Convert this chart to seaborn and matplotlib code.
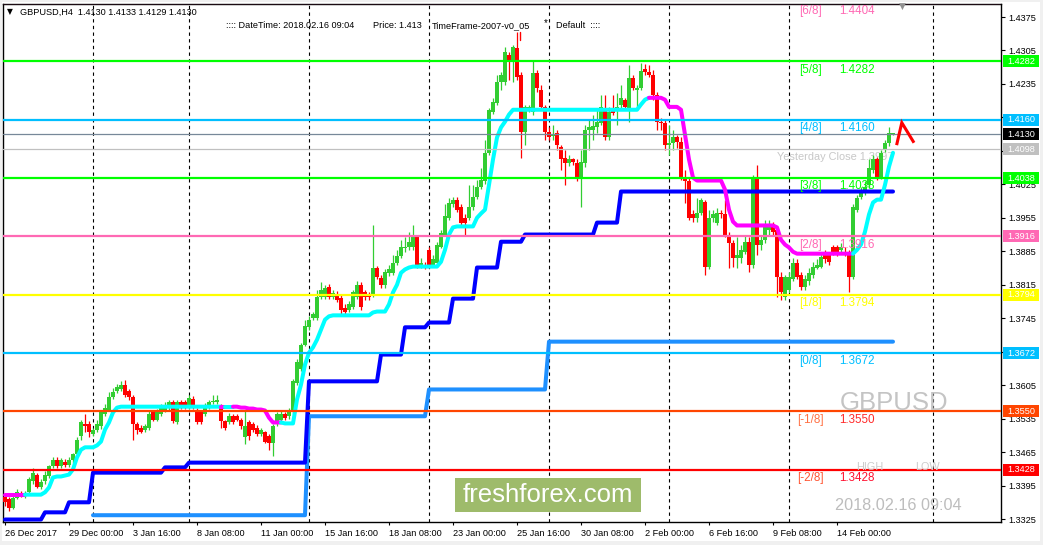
import numpy as np
import pandas as pd
import matplotlib
matplotlib.use("Agg")
import matplotlib.pyplot as plt
import matplotlib.transforms as mtransforms
from matplotlib.patches import Rectangle
from matplotlib.lines import Line2D
import seaborn as sns

# ---------------- data (GBPUSD H4, bar index 0 = 26 Dec 2017) ----------------
opens = [
    1.3372, 1.3366, 1.3349, 1.3370, 1.3379, 1.3376, 1.3381, 1.3404, 1.3418, 1.3393,
    1.3404, 1.3414, 1.3435, 1.3448, 1.3435, 1.3445, 1.3437, 1.3448, 1.3460, 1.3498,
    1.3523, 1.3523, 1.3502, 1.3512, 1.3519, 1.3544, 1.3554, 1.3581, 1.3592, 1.3596,
    1.3606, 1.3592, 1.3581, 1.3523, 1.3516, 1.3512, 1.3516, 1.3548, 1.3533, 1.3544,
    1.3552, 1.3558, 1.3569, 1.3527, 1.3569, 1.3569, 1.3560, 1.3577, 1.3554, 1.3550,
    1.3544, 1.3560, 1.3569, 1.3569, 1.3558, 1.3529, 1.3527, 1.3540, 1.3540, 1.3533,
    1.3496, 1.3527, 1.3523, 1.3516, 1.3502, 1.3506, 1.3498, 1.3485, 1.3523, 1.3533,
    1.3544, 1.3540, 1.3548, 1.3610, 1.3638, 1.3690, 1.3726, 1.3746, 1.3746, 1.3790,
    1.3790, 1.3811, 1.3790, 1.3794, 1.3788, 1.3767, 1.3763, 1.3769, 1.3790, 1.3815,
    1.3799, 1.3794, 1.3794, 1.3851, 1.3830, 1.3815, 1.3840, 1.3840, 1.3861, 1.3876,
    1.3891, 1.3893, 1.3895, 1.3914, 1.3857, 1.3857, 1.3888, 1.3857, 1.3861, 1.3895,
    1.3920, 1.3955, 1.3983, 1.3993, 1.3978, 1.3955, 1.3955, 1.3978, 1.3999, 1.4020,
    1.4031, 1.4091, 1.4177, 1.4196, 1.4240, 1.4240, 1.4296, 1.4281, 1.4311, 1.4254,
    1.4135, 1.4181, 1.4177, 1.4258, 1.4223, 1.4187, 1.4135, 1.4127, 1.4133, 1.4104,
    1.4081, 1.4070, 1.4077, 1.4070, 1.4039, 1.4070, 1.4139, 1.4139, 1.4144, 1.4154,
    1.4185, 1.4125, 1.4185, 1.4181, 1.4192, 1.4202, 1.4185, 1.4248, 1.4223, 1.4227,
    1.4267, 1.4260, 1.4254, 1.4212, 1.4156, 1.4154, 1.4108, 1.4112, 1.4123, 1.4114,
    1.4041, 1.4031, 1.3962, 1.3955, 1.3966, 1.3989, 1.3853, 1.3955, 1.3945, 1.3966,
    1.3962, 1.3920, 1.3903, 1.3872, 1.3872, 1.3884, 1.3905, 1.3857, 1.4039, 1.3899,
    1.3909, 1.3930, 1.3943, 1.3930, 1.3832, 1.3790, 1.3805, 1.3826, 1.3861, 1.3836,
    1.3811, 1.3822, 1.3836, 1.3851, 1.3853, 1.3882, 1.3878, 1.3893, 1.3893, 1.3888,
    1.3884, 1.3882, 1.3832, 1.3972, 1.3999, 1.4008, 1.4024, 1.4056, 1.4077, 1.4041,
    1.4097, 1.4112, 1.4130,
]
highs = [
    1.3379, 1.3372, 1.3376, 1.3387, 1.3383, 1.3383, 1.3412, 1.3431, 1.3422, 1.3408,
    1.3425, 1.3439, 1.3454, 1.3454, 1.3452, 1.3450, 1.3454, 1.3464, 1.3496, 1.3533,
    1.3544, 1.3529, 1.3516, 1.3533, 1.3554, 1.3565, 1.3590, 1.3600, 1.3608, 1.3613,
    1.3615, 1.3596, 1.3585, 1.3527, 1.3521, 1.3523, 1.3550, 1.3554, 1.3556, 1.3565,
    1.3569, 1.3575, 1.3575, 1.3575, 1.3575, 1.3573, 1.3585, 1.3583, 1.3558, 1.3554,
    1.3567, 1.3575, 1.3585, 1.3585, 1.3565, 1.3533, 1.3546, 1.3544, 1.3544, 1.3537,
    1.3554, 1.3533, 1.3527, 1.3521, 1.3516, 1.3510, 1.3502, 1.3523, 1.3548, 1.3550,
    1.3548, 1.3558, 1.3617, 1.3659, 1.3694, 1.3742, 1.3749, 1.3759, 1.3805, 1.3820,
    1.3815, 1.3817, 1.3805, 1.3801, 1.3794, 1.3774, 1.3780, 1.3805, 1.3822, 1.3820,
    1.3803, 1.3799, 1.3941, 1.3855, 1.3836, 1.3847, 1.3857, 1.3878, 1.3888, 1.3909,
    1.3914, 1.3926, 1.3941, 1.3918, 1.3872, 1.3863, 1.3895, 1.3878, 1.3905, 1.3930,
    1.3983, 1.3997, 1.3999, 1.3999, 1.3983, 1.3962, 1.4024, 1.4024, 1.4035, 1.4060,
    1.4118, 1.4185, 1.4206, 1.4254, 1.4260, 1.4313, 1.4302, 1.4317, 1.4344, 1.4260,
    1.4192, 1.4192, 1.4286, 1.4265, 1.4233, 1.4192, 1.4144, 1.4150, 1.4139, 1.4108,
    1.4097, 1.4087, 1.4081, 1.4077, 1.4097, 1.4150, 1.4160, 1.4171, 1.4181, 1.4212,
    1.4212, 1.4187, 1.4212, 1.4217, 1.4233, 1.4206, 1.4275, 1.4254, 1.4233, 1.4279,
    1.4277, 1.4275, 1.4265, 1.4219, 1.4164, 1.4160, 1.4150, 1.4139, 1.4129, 1.4123,
    1.4056, 1.4039, 1.3972, 1.3997, 1.3997, 1.3993, 1.3972, 1.3972, 1.3976, 1.3972,
    1.3993, 1.3926, 1.3909, 1.3914, 1.3899, 1.3916, 1.3914, 1.4045, 1.4066, 1.3920,
    1.3951, 1.3951, 1.3947, 1.3935, 1.3842, 1.3836, 1.3842, 1.3872, 1.3868, 1.3842,
    1.3836, 1.3851, 1.3863, 1.3868, 1.3882, 1.3888, 1.3882, 1.3899, 1.3899, 1.3903,
    1.3893, 1.3888, 1.3983, 1.4003, 1.4020, 1.4031, 1.4077, 1.4087, 1.4083, 1.4097,
    1.4118, 1.4144, 1.4133,
]
lows = [
    1.3353, 1.3341, 1.3345, 1.3366, 1.3372, 1.3370, 1.3376, 1.3399, 1.3389, 1.3387,
    1.3399, 1.3410, 1.3431, 1.3431, 1.3431, 1.3433, 1.3433, 1.3443, 1.3456, 1.3491,
    1.3508, 1.3496, 1.3498, 1.3508, 1.3514, 1.3540, 1.3550, 1.3577, 1.3588, 1.3592,
    1.3581, 1.3575, 1.3491, 1.3502, 1.3504, 1.3508, 1.3512, 1.3529, 1.3529, 1.3540,
    1.3548, 1.3554, 1.3525, 1.3523, 1.3556, 1.3556, 1.3556, 1.3556, 1.3523, 1.3523,
    1.3540, 1.3556, 1.3565, 1.3565, 1.3516, 1.3512, 1.3523, 1.3523, 1.3529, 1.3514,
    1.3481, 1.3491, 1.3508, 1.3498, 1.3498, 1.3483, 1.3470, 1.3456, 1.3519, 1.3529,
    1.3533, 1.3535, 1.3544, 1.3606, 1.3634, 1.3686, 1.3721, 1.3742, 1.3742, 1.3786,
    1.3786, 1.3786, 1.3786, 1.3778, 1.3753, 1.3753, 1.3759, 1.3765, 1.3786, 1.3763,
    1.3784, 1.3784, 1.3790, 1.3826, 1.3809, 1.3809, 1.3834, 1.3836, 1.3857, 1.3872,
    1.3884, 1.3888, 1.3888, 1.3851, 1.3851, 1.3847, 1.3851, 1.3853, 1.3857, 1.3891,
    1.3916, 1.3951, 1.3978, 1.3968, 1.3941, 1.3918, 1.3951, 1.3972, 1.3995, 1.4016,
    1.4026, 1.4087, 1.4173, 1.4192, 1.4223, 1.4233, 1.4244, 1.4240, 1.4244, 1.4081,
    1.4108, 1.4177, 1.4171, 1.4219, 1.4181, 1.4118, 1.4118, 1.4118, 1.4097, 1.4056,
    1.4024, 1.4064, 1.4066, 1.4031, 1.3978, 1.4062, 1.4097, 1.4118, 1.4133, 1.4150,
    1.4118, 1.4118, 1.4171, 1.4150, 1.4185, 1.4181, 1.4156, 1.4223, 1.4181, 1.4223,
    1.4254, 1.4250, 1.4202, 1.4139, 1.4139, 1.4097, 1.4087, 1.4097, 1.4102, 1.4035,
    1.3987, 1.3951, 1.3947, 1.3947, 1.3960, 1.3836, 1.3847, 1.3947, 1.3939, 1.3955,
    1.3914, 1.3851, 1.3853, 1.3851, 1.3861, 1.3880, 1.3842, 1.3851, 1.3878, 1.3888,
    1.3903, 1.3920, 1.3920, 1.3790, 1.3784, 1.3784, 1.3799, 1.3822, 1.3826, 1.3805,
    1.3805, 1.3815, 1.3830, 1.3847, 1.3849, 1.3861, 1.3857, 1.3878, 1.3876, 1.3884,
    1.3876, 1.3799, 1.3826, 1.3968, 1.3995, 1.4003, 1.4018, 1.4049, 1.4035, 1.4037,
    1.4093, 1.4106, 1.4129,
]
closes = [
    1.3360, 1.3349, 1.3370, 1.3381, 1.3376, 1.3379, 1.3408, 1.3422, 1.3393, 1.3402,
    1.3418, 1.3435, 1.3448, 1.3435, 1.3448, 1.3437, 1.3448, 1.3460, 1.3491, 1.3527,
    1.3519, 1.3506, 1.3512, 1.3523, 1.3548, 1.3558, 1.3581, 1.3590, 1.3602, 1.3606,
    1.3585, 1.3581, 1.3523, 1.3512, 1.3508, 1.3519, 1.3544, 1.3533, 1.3550, 1.3558,
    1.3563, 1.3569, 1.3529, 1.3569, 1.3560, 1.3560, 1.3579, 1.3560, 1.3527, 1.3527,
    1.3560, 1.3569, 1.3571, 1.3575, 1.3529, 1.3516, 1.3540, 1.3527, 1.3533, 1.3519,
    1.3519, 1.3498, 1.3512, 1.3502, 1.3512, 1.3487, 1.3485, 1.3519, 1.3544, 1.3544,
    1.3537, 1.3554, 1.3613, 1.3654, 1.3690, 1.3728, 1.3742, 1.3753, 1.3790, 1.3805,
    1.3809, 1.3790, 1.3797, 1.3784, 1.3763, 1.3759, 1.3774, 1.3799, 1.3815, 1.3769,
    1.3790, 1.3790, 1.3851, 1.3832, 1.3815, 1.3842, 1.3847, 1.3861, 1.3876, 1.3893,
    1.3895, 1.3905, 1.3914, 1.3857, 1.3861, 1.3851, 1.3857, 1.3868, 1.3899, 1.3924,
    1.3958, 1.3987, 1.3993, 1.3972, 1.3945, 1.3945, 1.3978, 1.3999, 1.4020, 1.4035,
    1.4091, 1.4181, 1.4198, 1.4240, 1.4254, 1.4302, 1.4281, 1.4313, 1.4250, 1.4135,
    1.4187, 1.4187, 1.4258, 1.4227, 1.4187, 1.4135, 1.4125, 1.4129, 1.4108, 1.4077,
    1.4070, 1.4077, 1.4072, 1.4039, 1.4072, 1.4139, 1.4144, 1.4146, 1.4156, 1.4187,
    1.4125, 1.4177, 1.4175, 1.4187, 1.4206, 1.4187, 1.4248, 1.4227, 1.4227, 1.4263,
    1.4260, 1.4254, 1.4212, 1.4156, 1.4154, 1.4108, 1.4112, 1.4123, 1.4114, 1.4041,
    1.4031, 1.3955, 1.3955, 1.3966, 1.3993, 1.3853, 1.3955, 1.3962, 1.3966, 1.3962,
    1.3920, 1.3903, 1.3872, 1.3878, 1.3888, 1.3905, 1.3857, 1.4039, 1.3899, 1.3909,
    1.3935, 1.3941, 1.3926, 1.3832, 1.3799, 1.3832, 1.3832, 1.3861, 1.3832, 1.3811,
    1.3826, 1.3840, 1.3853, 1.3857, 1.3874, 1.3868, 1.3863, 1.3884, 1.3882, 1.3895,
    1.3882, 1.3832, 1.3978, 1.3997, 1.4014, 1.4020, 1.4060, 1.4077, 1.4041, 1.4091,
    1.4112, 1.4133, 1.4130,
]
# trailing-stop indicator (cyan = up, magenta = down)
trail = [
    1.3376, 1.3376, 1.3376, 1.3376, 1.3376, 1.3376, 1.3376, 1.3376, 1.3376, 1.3376,
    1.3381, 1.3391, 1.3412, 1.3414, 1.3414, 1.3416, 1.3418, 1.3429, 1.3454, 1.3470,
    1.3475, 1.3475, 1.3475, 1.3479, 1.3487, 1.3512, 1.3527, 1.3548, 1.3558, 1.3560,
    1.3560, 1.3560, 1.3560, 1.3560, 1.3560, 1.3560, 1.3560, 1.3560, 1.3560, 1.3560,
    1.3560, 1.3560, 1.3560, 1.3560, 1.3560, 1.3560, 1.3560, 1.3560, 1.3560, 1.3560,
    1.3560, 1.3560, 1.3560, 1.3560, 1.3560, 1.3560, 1.3560, 1.3560, 1.3560, 1.3558,
    1.3558, 1.3556, 1.3556, 1.3554, 1.3554, 1.3552, 1.3537, 1.3527, 1.3527, 1.3527,
    1.3525, 1.3525, 1.3525, 1.3575, 1.3606, 1.3648, 1.3673, 1.3684, 1.3700, 1.3721,
    1.3742, 1.3749, 1.3751, 1.3751, 1.3751, 1.3751, 1.3751, 1.3751, 1.3751, 1.3751,
    1.3751, 1.3751, 1.3757, 1.3759, 1.3759, 1.3759, 1.3774, 1.3799, 1.3815, 1.3840,
    1.3847, 1.3851, 1.3853, 1.3853, 1.3853, 1.3853, 1.3853, 1.3853, 1.3853, 1.3863,
    1.3888, 1.3920, 1.3935, 1.3937, 1.3937, 1.3937, 1.3937, 1.3937, 1.3955, 1.3964,
    1.3972, 1.4024, 1.4077, 1.4123, 1.4144, 1.4156, 1.4171, 1.4181, 1.4181, 1.4181,
    1.4181, 1.4181, 1.4181, 1.4181, 1.4181, 1.4181, 1.4181, 1.4181, 1.4181, 1.4181,
    1.4181, 1.4181, 1.4181, 1.4181, 1.4181, 1.4181, 1.4181, 1.4181, 1.4181, 1.4181,
    1.4181, 1.4181, 1.4181, 1.4181, 1.4181, 1.4181, 1.4181, 1.4181, 1.4181, 1.4192,
    1.4202, 1.4206, 1.4206, 1.4206, 1.4206, 1.4202, 1.4187, 1.4187, 1.4187, 1.4181,
    1.4129, 1.4077, 1.4039, 1.4033, 1.4033, 1.4033, 1.4033, 1.4033, 1.4033, 1.4033,
    1.4014, 1.3972, 1.3947, 1.3939, 1.3939, 1.3939, 1.3939, 1.3939, 1.3939, 1.3939,
    1.3939, 1.3939, 1.3939, 1.3935, 1.3909, 1.3899, 1.3893, 1.3884, 1.3880, 1.3880,
    1.3880, 1.3880, 1.3880, 1.3880, 1.3880, 1.3880, 1.3880, 1.3880, 1.3880, 1.3880,
    1.3880, 1.3880, 1.3880, 1.3888, 1.3899, 1.3926, 1.3962, 1.3987, 1.3993, 1.3993,
    1.4024, 1.4062, 1.4091,
]
trail_dir = [
    -1, -1, -1, -1, -1, -1, 1, 1, 1, 1,
    1, 1, 1, 1, 1, 1, 1, 1, 1, 1,
    1, 1, 1, 1, 1, 1, 1, 1, 1, 1,
    1, 1, 1, 1, 1, 1, 1, 1, 1, 1,
    1, 1, 1, 1, 1, 1, 1, 1, 1, 1,
    1, 1, 1, 1, 1, -1, 1, 1, -1, -1,
    -1, -1, -1, -1, -1, -1, -1, -1, -1, -1,
    1, 1, 1, 1, 1, 1, 1, 1, 1, 1,
    1, 1, 1, 1, 1, 1, 1, 1, 1, 1,
    1, 1, 1, 1, 1, 1, 1, 1, 1, 1,
    1, 1, 1, 1, 1, 1, 1, 1, 1, 1,
    1, 1, 1, 1, 1, 1, 1, 1, 1, 1,
    1, 1, 1, 1, 1, 1, 1, 1, 1, 1,
    1, 1, 1, 1, 1, 1, 1, 1, 1, 1,
    1, 1, 1, 1, 1, 1, 1, 1, 1, 1,
    1, 1, 1, 1, 1, 1, 1, 1, 1, 1,
    1, 1, -1, -1, -1, -1, -1, -1, -1, -1,
    -1, -1, -1, -1, -1, -1, -1, -1, -1, -1,
    -1, -1, -1, -1, -1, -1, -1, -1, -1, -1,
    -1, -1, -1, -1, -1, -1, -1, -1, -1, -1,
    -1, -1, -1, -1, -1, -1, -1, -1, -1, -1,
    -1, -1, -1, 1, 1, 1, 1, 1, 1, 1,
    1, 1, 1,
]
# daily and weekly support steps (first bar of each step, level)
daily_start = [0, 10, 16, 22, 40, 46, 76, 94, 100, 106, 112, 118, 124, 130, 148, 154]
daily_level = [1.3324, 1.3339, 1.3360, 1.3422, 1.3433, 1.3443, 1.3613, 1.3669,
               1.3726, 1.3736, 1.3786, 1.3851, 1.3905, 1.3920, 1.3945, 1.4010]
weekly_start = [22, 76, 106, 136]
weekly_level = [1.3333, 1.3540, 1.3596, 1.3696]

time_tick_bars = [0, 16, 32, 48, 64, 80, 96, 112, 128, 144, 160, 176, 192, 208]
time_tick_labels = ["26 Dec 2017", "29 Dec 00:00", "3 Jan 16:00", "8 Jan 08:00",
                    "11 Jan 00:00", "15 Jan 16:00", "18 Jan 08:00", "23 Jan 00:00",
                    "25 Jan 16:00", "30 Jan 08:00", "2 Feb 00:00", "6 Feb 16:00",
                    "9 Feb 08:00", "14 Feb 00:00"]
week_separators = [22, 46, 76, 106, 136, 166, 196, 232]

mm_names = ["[6/8]", "[5/8]", "[4/8]", "[3/8]", "[2/8]", "[1/8]", "[0/8]", "[-1/8]", "[-2/8]"]
mm_levels = [1.4404, 1.4282, 1.4160, 1.4038, 1.3916, 1.3794, 1.3672, 1.3550, 1.3428]
mm_colors = ["#FF69B4", "#00FF00", "#00BFFF", "#00FF00", "#FF69B4", "#FFFF00",
             "#00BFFF", "#FF4500", "#FF0000"]
mm_name_colors = ["#FF69B4", "#00FF00", "#00BFFF", "#00FF00", "#FF69B4", "#FFFF00",
                  "#00BFFF", "#FF7043", "#FF5533"]
mm_value_colors = ["#FF69B4", "#00FF00", "#00BFFF", "#00FF00", "#FF69B4", "#FFFF00",
                   "#00BFFF", "#FF2A2A", "#FF1030"]

price_ticks = [1.4375, 1.4305, 1.4235, 1.4165, 1.4095, 1.4025, 1.3955, 1.3885,
               1.3815, 1.3745, 1.3675, 1.3605, 1.3535, 1.3465, 1.3395, 1.3325]
# tick labels fully hidden behind the price tags in the reference
hidden_tick_labels = [1.4165, 1.4095, 1.3675]
tag_values = [1.4282, 1.4160, 1.4130, 1.4098, 1.4038, 1.3916, 1.3794, 1.3672, 1.3550, 1.3428]
tag_colors = ["#00FF00", "#00BFFF", "#000000", "#C0C0C0", "#00FF00", "#FF69B4",
              "#FFFF00", "#00BFFF", "#FF4500", "#FF0000"]
last_price = 1.4130
yesterday_close = 1.4098
signal_arrow_bar = [222.9, 224.2, 227.25]
signal_arrow_price = [1.4107, 1.4154, 1.4112]

n = len(closes)
for name, arr in [("opens", opens), ("highs", highs), ("lows", lows), ("trail", trail), ("trail_dir", trail_dir)]:
    if len(arr) != n:
        raise ValueError(f"{name} has {len(arr)} values, expected {n}")


def expand_steps(starts, levels, size):
    out = np.full(size, np.nan)
    for k, (s, v) in enumerate(zip(starts, levels)):
        e = starts[k + 1] if k + 1 < len(starts) else size
        out[s:e] = v
    return out


# ---------------- figure ----------------
sns.set_theme(style="white")
plt.rcParams["font.family"] = ["Liberation Sans", "DejaVu Sans"]

W, H = 1043, 545
fig = plt.figure(figsize=(W / 100, H / 100), dpi=100, facecolor="#F0F0F0")
fig.add_artist(Rectangle((2 / W, 4 / H), 1038 / W, 539 / H, transform=fig.transFigure,
                         fc="white", ec="none", zorder=-10))
ax = fig.add_axes([3 / W, 1 - 522 / H, 998 / W, 518 / H])
ax.set_facecolor("white")

YLO, YHI = 1.33188, 1.44022
px = (YHI - YLO) / 518.0

# week separators
for s in week_separators:
    ax.axvline(s, color="black", lw=0.8, ls=(0, (3, 3)), zorder=1)

# yesterday-close text (behind candles)
ax.text(193.0, 1.40822, "Yesterday Close 1.3997", color="#C8C8C8", fontsize=7.9,
        va="center", ha="left", zorder=1.2)

# candles
df = pd.DataFrame({"bar": np.arange(n), "o": opens, "h": highs, "l": lows, "c": closes})
up = df["c"] >= df["o"]
col = np.where(up, "#32CD32", "#FF0000")
ax.vlines(df["bar"], df["l"], df["h"], colors=col, lw=0.9, zorder=3)
body_bottom = np.minimum(df["o"], df["c"])
body_h = np.maximum((df["c"] - df["o"]).abs(), px * 0.9)
ax.bar(df["bar"], body_h, bottom=body_bottom, width=0.78, color=col, lw=0, zorder=3)

# daily / weekly support steps
daily = expand_steps(daily_start, daily_level, n)
weekly = expand_steps(weekly_start, weekly_level, n)
dfd = pd.DataFrame({"bar": np.arange(n), "price": daily})
dfw = pd.DataFrame({"bar": np.arange(n), "price": weekly}).dropna()
sns.lineplot(data=dfw, x="bar", y="price", ax=ax, color="#1E90FF", lw=2.9,
             estimator=None, sort=False, legend=False, zorder=4)
sns.lineplot(data=dfd, x="bar", y="price", ax=ax, color="#0000FF", lw=2.9,
             estimator=None, sort=False, legend=False, zorder=4)

# trailing line, split into direction runs
tr = np.array(trail)
td = np.array(trail_dir)
runs = []
st = 0
for i in range(1, n + 1):
    if i == n or td[i] != td[st]:
        runs.append((st, i - 1, td[st]))
        st = i
for a, b, d in runs:
    lo = max(a - 1, 0)
    seg = pd.DataFrame({"bar": np.arange(lo, b + 1), "price": tr[lo:b + 1]})
    sns.lineplot(data=seg, x="bar", y="price", ax=ax,
                 color="#00FFFF" if d > 0 else "#FF00FF", lw=2.9,
                 estimator=None, sort=False, legend=False, zorder=4.2)

# price lines
ax.axhline(last_price, color="#778899", lw=0.9, zorder=5)
ax.axhline(yesterday_close, color="#C0C0C0", lw=0.9, zorder=5)

# Murrey math levels
for name, v, c, nc, vc in zip(mm_names, mm_levels, mm_colors, mm_name_colors, mm_value_colors):
    ax.axhline(v, color=c, lw=1.6, zorder=5)
    name_x = 198.0 if name.startswith("[-") else 198.6
    ax.annotate(name, xy=(name_x, v), xytext=(0, -5.9), textcoords="offset points",
                color=nc, fontsize=8.4, va="center", ha="left", zorder=6,
                annotation_clip=False)
    ax.annotate(f"{v:.4f}", xy=(208.5, v), xytext=(0, -5.9), textcoords="offset points",
                color=vc, fontsize=8.4, va="center", ha="left", zorder=6,
                annotation_clip=False)

# signal arrow
ax.plot(signal_arrow_bar, signal_arrow_price, color="#FF0000", lw=2.2, zorder=7,
        solid_joinstyle="miter", solid_capstyle="butt")

# axes
ax.set_xlim(-0.5, 249)
ax.set_ylim(YLO, YHI)
ax.set_xlabel("")
ax.set_ylabel("")
ax.yaxis.tick_right()
ax.set_yticks(price_ticks, labels=["" if v in hidden_tick_labels else f"{v:.4f}"
                                   for v in price_ticks])
ax.set_xticks(time_tick_bars, labels=time_tick_labels, ha="left")
ax.tick_params(axis="y", which="both", right=True, left=False, direction="out",
               length=3, width=0.8, pad=2.2, labelsize=6.6, colors="black")
ax.tick_params(axis="x", which="both", bottom=True, top=False, direction="out",
               length=2.5, width=0.8, pad=2.4, labelsize=6.6, colors="black")
for s in ax.spines.values():
    s.set_color("black")
    s.set_linewidth(1.0)
    s.set_visible(True)

# right-hand price tags
trans = mtransforms.blended_transform_factory(ax.transAxes, ax.transData)
hh = 12 * px
for v, c in zip(tag_values, tag_colors):
    ax.add_patch(Rectangle((1.0020, v - hh / 2), 0.0361, hh, transform=trans, fc=c,
                           ec="none", clip_on=False, zorder=10))
    ax.text(1.0068, v, f"{v:.4f}", transform=trans, color="white", fontsize=6.6,
            va="center", ha="left", zorder=11, clip_on=False)

# header
fig.text(7 / W, 1 - 12 / H, "▼", fontsize=5.5, color="black", va="center", ha="left",
         family="DejaVu Sans")
fig.text(20 / W, 1 - 12.5 / H, "GBPUSD,H4  1.4130 1.4133 1.4129 1.4130", fontsize=6.6,
         color="black", va="center", ha="left")
fig.text(226 / W, 1 - 25.5 / H, ":::: DateTime: 2018.02.16 09:04", fontsize=6.6,
         color="black", va="center", ha="left")
fig.text(373 / W, 1 - 25.5 / H, "Price: 1.413", fontsize=6.6, color="black",
         va="center", ha="left")
fig.text(432 / W, 1 - 25.5 / H, "TimeFrame-2007-v0_05", fontsize=6.6, color="black",
         va="center", ha="left")
fig.text(544 / W, 1 - 23 / H, "*", fontsize=7, color="black", va="center", ha="left")
fig.text(556 / W, 1 - 25.5 / H, "Default  ::::", fontsize=6.6, color="black",
         va="center", ha="left")
fig.add_artist(Line2D([520 / W, 520 / W], [1 - 32 / H, 1 - 40 / H], color="red", lw=1.0))
fig.text(902 / W, 1 - 6 / H, "▼", fontsize=6.5, color="#909090", va="center",
         ha="center", family="DejaVu Sans")

# overlays
fig.text(840 / W, 1 - 403 / H, "GBPUSD", fontsize=18.5, color="#C4C4C4", va="center", ha="left")
fig.text(856 / W, 1 - 467 / H, "HIGH", fontsize=7.8, color="#CCCCCC", va="center", ha="left")
fig.text(915 / W, 1 - 467 / H, "LOW", fontsize=7.8, color="#CCCCCC", va="center", ha="left")
fig.text(835 / W, 1 - 505 / H, "2018.02.16 09:04", fontsize=11.7, color="#BDBDBD",
         va="center", ha="left")
fig.add_artist(Rectangle((455 / W, 1 - 512 / H), 186 / W, 34 / H, transform=fig.transFigure,
                         fc="#9EBB6B", ec="none", zorder=5))
fig.text(548 / W, 1 - 495 / H, "freshforex.com", fontsize=18.5, color="white",
         ha="center", va="center", zorder=6)

fig.savefig("out.png", dpi=100, facecolor=fig.get_facecolor())
